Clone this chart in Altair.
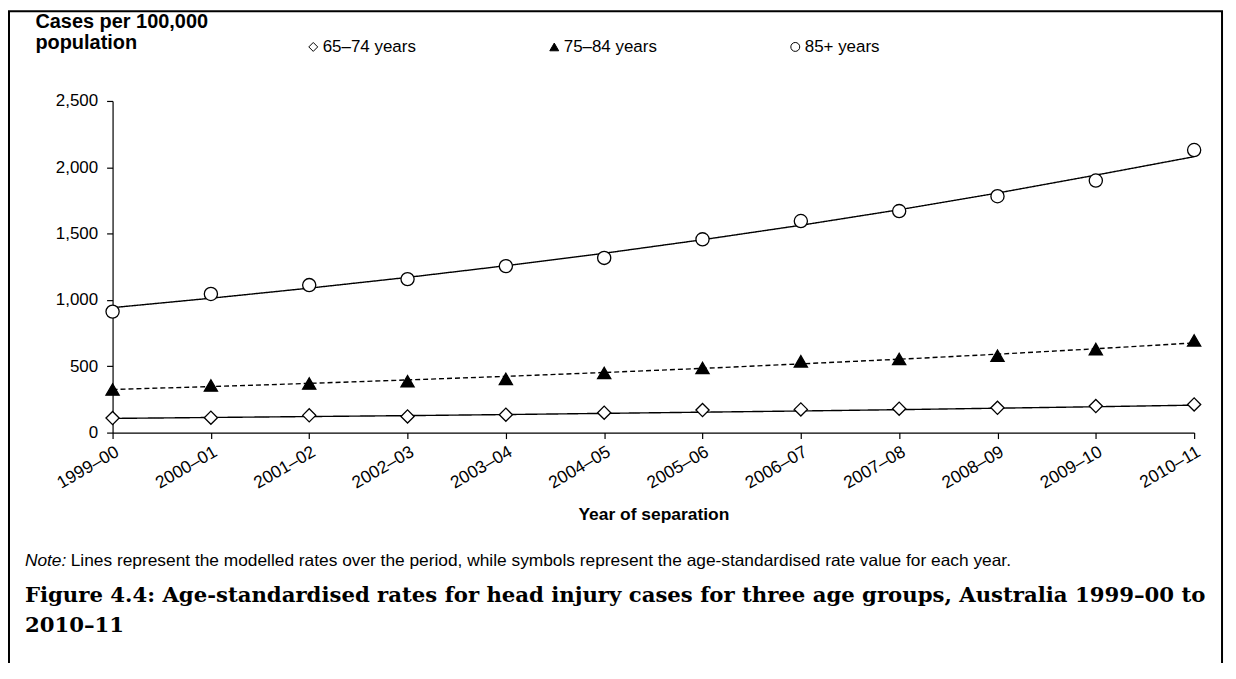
import altair as alt
import pandas as pd

years = ["1999–00", "2000–01", "2001–02", "2002–03", "2003–04", "2004–05",
         "2005–06", "2006–07", "2007–08", "2008–09", "2009–10", "2010–11"]
series_names = ["65–74 years", "75–84 years", "85+ years"]
line_styles = ["solid", "dashed", "solid"]

# age-standardised rate values (symbols)
rate_65_74 = [110, 112, 130, 122, 135, 150, 170, 175, 180, 187, 200, 212]
rate_75_84 = [325, 355, 370, 387, 405, 450, 487, 537, 555, 580, 630, 695]
rate_85 = [912, 1045, 1112, 1157, 1255, 1317, 1457, 1595, 1670, 1782, 1900, 2130]

# modelled rates (lines)
model_65_74 = [107, 114, 121, 128, 136, 145, 154, 163, 173, 184, 195, 207]
model_75_84 = [325, 347, 371, 397, 424, 453, 484, 518, 553, 591, 632, 676]
model_85 = [942, 1013, 1089, 1170, 1258, 1352, 1454, 1563, 1680, 1806, 1941, 2080]

y_title = ["Cases per 100,000", "population"]
x_title = "Year of separation"
note_label = "Note:"
note_text = ("Lines represent the modelled rates over the period, while symbols "
             "represent the age-standardised rate value for each year.")
caption_1 = "Figure 4.4: Age-standardised rates for head injury cases for three age groups, Australia 1999–00 to"
caption_2 = "2010–11"

rows_pts, rows_mod = [], []
for name, style, r, m in zip(series_names, line_styles,
                             [rate_65_74, rate_75_84, rate_85],
                             [model_65_74, model_75_84, model_85]):
    for yr, rv, mv in zip(years, r, m):
        rows_pts.append({"year": yr, "series": name, "rate": rv})
        rows_mod.append({"year": yr, "group": name, "style": style, "rate": mv})
pts = pd.DataFrame(rows_pts)
mod = pd.DataFrame(rows_mod)

FONT = "Liberation Sans"

x_enc = alt.X("year:O", sort=years, scale=alt.Scale(padding=0),
              axis=alt.Axis(title=x_title, labelAngle=-30, labelAlign="right",
                            labelBaseline="top", labelFontSize=17.5, labelPadding=4,
                            tickSize=6, titleFontSize=17.5, titleFontWeight="bold",
                            titleY=82, titleBaseline="middle"))
y_enc = alt.Y("rate:Q", scale=alt.Scale(domain=[0, 2500], nice=False),
              axis=alt.Axis(title=y_title, values=[0, 500, 1000, 1500, 2000, 2500],
                            format=",d", grid=False, labelFontSize=17, labelPadding=9,
                            tickSize=6, titleAngle=0, titleAlign="left",
                            titleBaseline="top", titleX=-78, titleY=-90,
                            titleFontSize=20, titleFontWeight="bold", titleLineHeight=21))

lines = alt.Chart(mod).mark_line(color="black", strokeWidth=1.4).encode(
    x=x_enc, y=y_enc,
    detail="group:N",
    strokeDash=alt.StrokeDash("style:N", scale=alt.Scale(domain=["solid", "dashed"],
                              range=[[1, 0], [5, 3]]), legend=None),
)

leg = alt.Legend(title=None, orient="none", legendX=193, legendY=-63,
                 direction="horizontal", labelFont=FONT, labelFontSize=17,
                 labelColor="black", columnPadding=130, symbolSize=80,
                 symbolStrokeWidth=1, labelOffset=1)

points = alt.Chart(pts).mark_point(strokeWidth=1.3, opacity=1, size=175).encode(
    x=alt.X("year:O", sort=years),
    y=alt.Y("rate:Q"),
    shape=alt.Shape("series:N", scale=alt.Scale(domain=series_names,
                    range=["diamond", "triangle-up", "circle"]), legend=leg),
    fill=alt.Fill("series:N", scale=alt.Scale(domain=series_names,
                  range=["white", "black", "white"]), legend=leg),
    stroke=alt.Stroke("series:N", scale=alt.Scale(domain=series_names,
                      range=["black", "black", "black"]), legend=leg),
)

frame = alt.Chart(pd.DataFrame({"k": [0]})).mark_rect(
    fill="transparent", stroke="black", strokeWidth=2).encode(
    x=alt.value(-104), x2=alt.value(1114), y=alt.value(-90), y2=alt.value(700))

note1 = alt.Chart(pd.DataFrame({"t": [note_label]})).mark_text(
    font=FONT, fontSize=17.4, fontStyle="italic", align="left", baseline="middle").encode(
    text="t:N", x=alt.value(-88), y=alt.value(462))
note2 = alt.Chart(pd.DataFrame({"t": [note_text]})).mark_text(
    font=FONT, fontSize=17.4, align="left", baseline="middle").encode(
    text="t:N", x=alt.value(-42), y=alt.value(462))

cap1 = alt.Chart(pd.DataFrame({"t": [caption_1]})).mark_text(
    font="DejaVu Serif", fontSize=21.3, fontWeight="bold", align="left",
    baseline="middle").encode(text="t:N", x=alt.value(-88), y=alt.value(497))
cap2 = alt.Chart(pd.DataFrame({"t": [caption_2]})).mark_text(
    font="DejaVu Serif", fontSize=21.3, fontWeight="bold", align="left",
    baseline="middle").encode(text="t:N", x=alt.value(-88), y=alt.value(527))

chart = alt.layer(frame, lines, points, note1, note2, cap1, cap2).properties(
    width=1086, height=333,
    autosize=alt.AutoSizeParams(type="none"),
    padding={"left": 105, "top": 92, "right": 34, "bottom": 230},
).configure_view(stroke=None).configure_axis(
    domainColor="black", tickColor="black", labelColor="black", titleColor="black",
    labelFont=FONT, titleFont=FONT, domainWidth=1.2, tickWidth=1.2,
)

chart.save("out.html", embed_options={"renderer": "svg", "actions": False})
